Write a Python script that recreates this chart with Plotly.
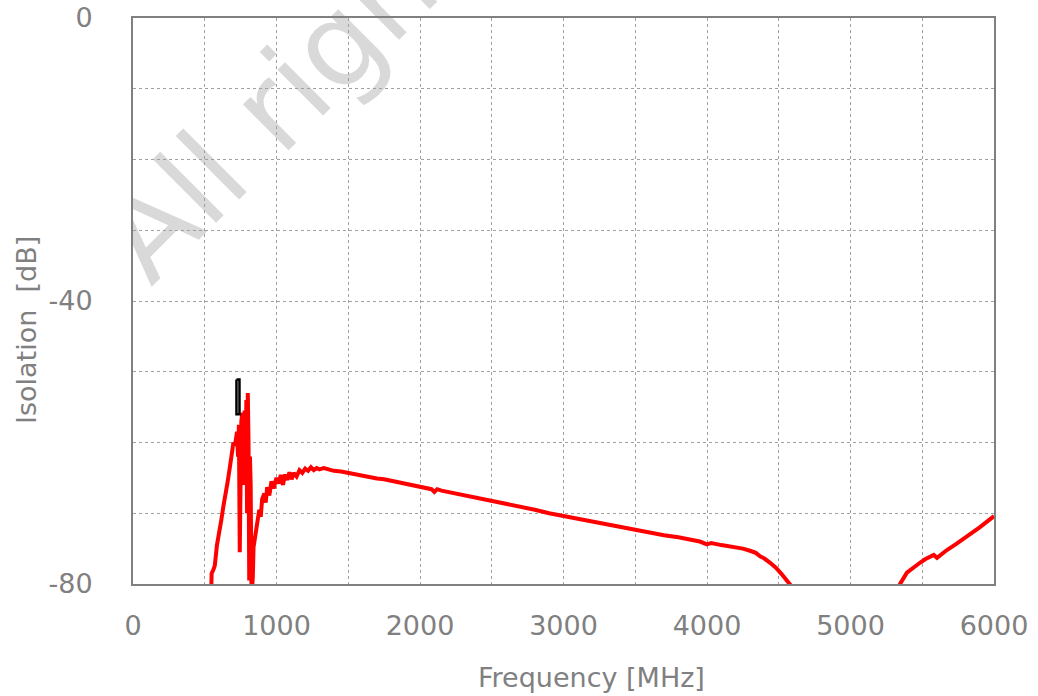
import plotly.graph_objects as go

# Frequency [MHz] and isolation [dB]
freq = [544, 548, 560, 570, 585, 600, 615, 630, 645, 660, 675, 690, 700, 710, 718, 725,
        732, 738, 744, 748, 755, 762, 768, 773, 778, 785, 790, 795, 800, 805, 810, 815,
        820, 826, 835, 840, 850, 865, 880, 890, 900, 915, 925, 935, 950, 965, 980, 1000,
        1015, 1030, 1045, 1060, 1075, 1090, 1105, 1120, 1140, 1160, 1180, 1200, 1220, 1240,
        1260, 1280, 1300, 1330, 1360, 1400, 1450, 1500, 1550, 1600, 1650, 1700, 1750, 1800,
        1850, 1900, 1950, 2000, 2050, 2080, 2100, 2120, 2150, 2200, 2300, 2400, 2500, 2600,
        2700, 2800, 2900, 3000, 3100, 3200, 3300, 3400, 3500, 3600, 3700, 3800, 3900, 3950,
        4000, 4030, 4100, 4160, 4200, 4250, 4300, 4340, 4370, 4400, 4440, 4480, 4520, 4560,
        4600, 4650, 4700, 4800, 5000, 5200, 5300, 5345, 5393, 5440, 5484, 5520, 5554, 5580,
        5603, 5630, 5672, 5740, 5812, 5900, 6000]
isolation = [-82, -78.5, -78, -77.4, -74.5, -73, -71, -69, -67.5, -65.5, -63.5, -61.5, -60, -60.5, -59.5, -58.5,
             -62, -57.5, -75.5, -60, -57, -55.8, -66, -58, -55.5, -62, -54, -70, -53, -60, -79.5, -62,
             -66, -82, -79, -74.8, -73.5, -71, -69.5, -70.5, -68, -67.2, -68.5, -66.3, -67.5, -65.5, -66.5, -65,
             -65.8, -64.6, -66, -64.5, -65.3, -64.2, -65.2, -64.3, -64.8, -63.9, -64.3, -63.7, -64.0, -63.5,
             -63.9, -63.6, -63.8, -63.6, -63.8, -64.0, -64.1, -64.3, -64.6, -64.8, -65.0, -65.1, -65.2, -65.4,
             -65.6, -65.8, -66.0, -66.3, -66.5, -66.6, -67.0, -66.6, -66.8, -67.0, -67.4, -67.8, -68.2, -68.6,
             -69.0, -69.5, -70.0, -70.4, -70.8, -71.2, -71.6, -72.0, -72.3, -72.7, -73.1, -73.4, -73.8, -74.0,
             -74.4, -74.2, -74.5, -74.7, -74.8, -75.0, -75.3, -75.6, -76.1, -76.4, -77.0, -77.7, -78.6, -79.5,
             -80.6, -82, -83.5, -86, -90, -86, -82, -80, -78.4, -77.6, -77.0, -76.5, -76.2, -75.9,
             -76.3, -75.8, -75.2, -74.3, -73.3, -72.0, -70.4]

# Spec marker (small rectangle)
spec_f = [721, 742, 742, 721, 721]
spec_db = [-51.1, -51.1, -56.0, -56.0, -51.1]

x_ticks = [0, 1000, 2000, 3000, 4000, 5000, 6000]
y_ticks = [0, -40, -80]

GRAY = "#808080"
GRID = "#a0a0a0"
FONT = "DejaVu Sans"

fig = go.Figure()
fig.add_trace(go.Scatter(x=freq, y=isolation, mode="lines",
                         line=dict(color="#ff0000", width=4), showlegend=False))
fig.add_trace(go.Scatter(x=spec_f, y=spec_db, mode="lines",
                         line=dict(color="#000000", width=2.5), showlegend=False))

# watermark behind the grid
fig.add_shape(type="rect", xref="paper", yref="paper",
              x0=0.438, x1=0.440, y0=1.281, y1=1.283,
              line=dict(width=0), fillcolor="rgba(0,0,0,0)", layer="below",
              label=dict(text="All rights reserved.", textangle=-45,
                         font=dict(family=FONT, size=118, color="#d9d9d9"),
                         textposition="middle center"))
# watermark is hidden left of the plot below the top band
fig.add_shape(type="rect", xref="paper", yref="paper",
              x0=-0.2, x1=-0.002, y0=-0.25, y1=(584 - 95) / 566,
              line=dict(width=0), fillcolor="white", layer="below")

# axis titles (offset from centre as in the reference)
fig.add_annotation(text="Frequency [MHz]", xref="paper", yref="paper",
                   x=(591 - 133) / 861, y=(584 - 677) / 566, xanchor="center", yanchor="middle",
                   showarrow=False, font=dict(family=FONT, size=27, color=GRAY))
fig.add_annotation(text="Isolation\u00a0 [dB]", xref="paper", yref="paper", textangle=-90,
                   x=(27 - 133) / 861, y=(584 - 330) / 566, xanchor="center", yanchor="middle",
                   showarrow=False, font=dict(family=FONT, size=27, color=GRAY))

fig.update_layout(
    width=1038, height=696,
    margin=dict(l=133, r=44, t=18, b=112, autoexpand=False),
    paper_bgcolor="white", plot_bgcolor="rgba(0,0,0,0)",
    font=dict(family=FONT, color=GRAY, size=27),
    xaxis=dict(range=[0, 6000], tickvals=x_ticks, ticktext=[str(v) for v in x_ticks],
               showgrid=True, gridcolor=GRID, griddash="dot", gridwidth=1,
               minor=dict(dtick=500, tick0=0, showgrid=True, gridcolor=GRID, griddash="dot", gridwidth=1),
               showline=True, mirror=True, linecolor=GRAY, linewidth=2,
               ticks="", ticklabelstandoff=17, zeroline=False, automargin=False,
               tickfont=dict(family=FONT, size=27, color=GRAY)),
    yaxis=dict(range=[-80, 0], tickvals=y_ticks, ticktext=[str(v) for v in y_ticks],
               showgrid=True, gridcolor=GRID, griddash="dot", gridwidth=1,
               minor=dict(dtick=10, tick0=0, showgrid=True, gridcolor=GRID, griddash="dot", gridwidth=1),
               showline=True, mirror=True, linecolor=GRAY, linewidth=2,
               ticks="", ticklabelstandoff=33, zeroline=False, automargin=False,
               tickfont=dict(family=FONT, size=27, color=GRAY)),
)

fig.write_html("out.html")
